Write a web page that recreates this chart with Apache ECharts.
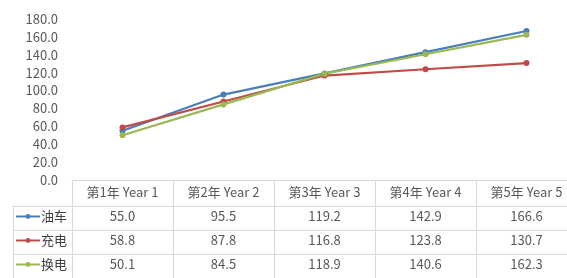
<!DOCTYPE html>
<html lang="zh">
<head>
    <meta charset="UTF-8">
    <title>Cost by Year</title>
    <script src="https://cdn.jsdelivr.net/npm/echarts@6/dist/echarts.min.js"></script>
    <style type="text/css">
        html, body { margin: 0; height: 100%; background: #fff; }
        #main { width: 567px; height: 278px; }
    </style>
</head>
<body>
    <div id="main"></div>
    <script type="text/javascript">
        // 数据
        var years = ['第1年 Year 1', '第2年 Year 2', '第3年 Year 3', '第4年 Year 4', '第5年 Year 5'];
        var seriesNames = ['油车', '充电', '换电'];
        var oilCar = [55.0, 95.5, 119.2, 142.9, 166.6];
        var charging = [58.8, 87.8, 116.8, 123.8, 130.7];
        var swapping = [50.1, 84.5, 118.9, 140.6, 162.3];
        var colors = ['#4a7ebb', '#be4b48', '#98b954'];

        var allValues = [oilCar, charging, swapping];
        var font = 'Noto Sans CJK SC';
        var border = '#d9d9d9';
        var textColor = '#595959';

        var chart = echarts.init(document.getElementById('main'));

        // 表格行：每行一条带偏移的类目轴
        var xAxes = [{
            type: 'category',
            data: years,
            boundaryGap: true,
            axisLine: { lineStyle: { color: border } },
            axisTick: { show: true, length: 98, lineStyle: { color: border } },
            axisLabel: { color: textColor, fontSize: 13, fontFamily: font, margin: 6, interval: 0 }
        }];
        allValues.forEach(function (vals, i) {
            xAxes.push({
                type: 'category',
                data: years,
                position: 'bottom',
                offset: 26 + i * 24,
                axisLine: { lineStyle: { color: border } },
                axisTick: { show: false },
                axisLabel: {
                    color: textColor, fontSize: 13, fontFamily: font, margin: 4, interval: 0,
                    formatter: function (v, idx) { return vals[idx].toFixed(1); }
                }
            });
        });

        var series = allValues.map(function (vals, i) {
            return {
                name: seriesNames[i],
                type: 'line',
                data: vals,
                symbol: 'circle',
                symbolSize: 6,
                lineStyle: { width: 2.2, color: colors[i] },
                itemStyle: { color: colors[i] }
            };
        });

        var option = {
            animation: false,
            textStyle: { fontFamily: font },
            grid: { left: 72, top: 19, width: 505, height: 161, outerBoundsMode: 'none' },
            legend: {
                orient: 'vertical',
                left: 15,
                top: 210,
                padding: 0,
                itemWidth: 24,
                itemHeight: 6,
                itemGap: 11,
                data: seriesNames,
                textStyle: { color: '#404040', fontSize: 13, fontFamily: font, padding: [0, 0, 0, -4] }
            },
            xAxis: xAxes,
            yAxis: {
                type: 'value',
                min: 0,
                max: 180,
                interval: 20,
                splitLine: { show: false },
                axisLine: { show: false },
                axisTick: { show: false },
                axisLabel: {
                    color: textColor, fontSize: 13, fontFamily: font, margin: 14,
                    formatter: function (v) { return v.toFixed(1); }
                }
            },
            // 左侧图例列的边框
            graphic: [
                { type: 'line', shape: { x1: 13, y1: 206.5, x2: 72, y2: 206.5 }, style: { stroke: border } },
                { type: 'line', shape: { x1: 13, y1: 230.5, x2: 72, y2: 230.5 }, style: { stroke: border } },
                { type: 'line', shape: { x1: 13, y1: 254.5, x2: 72, y2: 254.5 }, style: { stroke: border } },
                { type: 'line', shape: { x1: 13.5, y1: 206, x2: 13.5, y2: 278 }, style: { stroke: border } }
            ],
            series: series
        };
        chart.setOption(option);
    </script>
</body>
</html>
